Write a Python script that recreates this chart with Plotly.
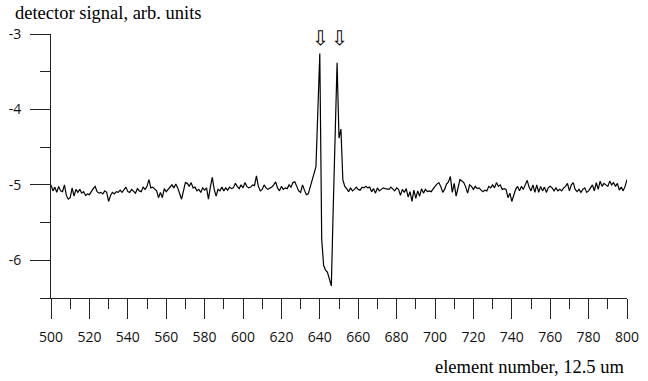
import plotly.graph_objects as go

element = list(range(500, 801))

signal = [
    -5.00, -5.08, -5.03, -5.10, -5.02, -5.08, -5.09, -5.00, -5.14, -5.19,
    -5.17, -5.04, -5.15, -5.06, -5.10, -5.06, -5.11, -5.09, -5.14, -5.12,
    -5.13, -5.08, -5.05, -5.02, -5.09, -5.11, -5.10, -5.12, -5.08, -5.10,
    -5.22, -5.14, -5.10, -5.12, -5.09, -5.10, -5.07, -5.10, -5.06, -5.03,
    -5.09, -5.10, -5.06, -5.08, -5.11, -5.05, -5.08, -5.09, -5.03, -5.06,
    -5.02, -4.93, -5.04, -5.03, -5.06, -5.08, -5.17, -5.10, -5.17, -5.05,
    -5.09, -5.06, -5.02, -5.00, -5.04, -4.99, -5.04, -5.12, -5.19, -5.08,
    -4.97, -4.98, -5.02, -4.97, -5.04, -5.03, -5.08, -5.06, -5.10, -5.04,
    -5.07, -5.04, -5.19, -5.03, -4.90, -5.06, -5.15, -5.06, -5.08, -5.03,
    -5.08, -5.04, -5.07, -5.03, -5.05, -5.04, -4.98, -5.02, -5.05, -5.00,
    -5.04, -4.97, -5.02, -5.04, -5.03, -5.00, -5.01, -4.88, -5.02, -5.08,
    -5.06, -5.00, -5.04, -5.06, -5.05, -5.03, -5.00, -4.96, -5.04, -5.08,
    -5.02, -5.06, -5.04, -5.05, -5.00, -5.03, -4.97, -4.96, -5.02, -5.08,
    -5.10, -5.00, -5.07, -5.13, -5.12, -5.02, -4.96, -4.85, -4.76, -4.00,
    -3.26, -5.72, -6.07, -6.13, -6.16, -6.25, -6.34, -5.30, -4.30, -3.38,
    -4.38, -4.26, -4.93, -5.02, -5.05, -5.09, -5.04, -5.08, -5.06, -5.03,
    -5.06, -5.07, -5.03, -5.04, -5.02, -5.04, -5.03, -5.09, -5.05, -5.11,
    -5.04, -5.08, -5.06, -5.04, -5.05, -5.05, -5.06, -5.03, -5.05, -5.08,
    -5.04, -5.06, -5.14, -5.06, -5.10, -5.05, -5.16, -5.09, -5.22, -5.07,
    -5.18, -5.08, -5.15, -5.05, -5.11, -5.06, -5.09, -5.08, -5.09, -5.05,
    -5.02, -4.99, -4.97, -5.02, -5.10, -5.06, -4.99, -4.96, -4.89, -5.10,
    -4.98, -5.15, -5.02, -4.93, -4.95, -4.97, -5.03, -5.11, -5.00, -5.02,
    -5.06, -5.02, -5.05, -5.04, -5.07, -5.09, -5.07, -5.08, -5.02, -5.04,
    -5.00, -5.04, -4.97, -5.02, -5.00, -5.06, -5.05, -5.06, -5.17, -5.11,
    -5.22, -5.13, -5.06, -5.02, -5.08, -5.02, -5.06, -5.00, -4.94, -5.03,
    -5.08, -5.00, -5.10, -5.00, -5.10, -5.02, -5.08, -5.03, -5.10, -5.04,
    -5.02, -5.04, -5.08, -5.04, -5.08, -5.06, -5.08, -5.04, -5.02, -4.98,
    -5.08, -5.00, -4.97, -5.06, -5.09, -5.06, -5.10, -5.06, -5.04, -5.10,
    -5.08, -5.04, -5.00, -5.08, -4.97, -5.06, -4.95, -5.02, -4.98, -5.00,
    -5.02, -4.95, -5.00, -4.97, -5.02, -4.98, -5.07, -5.03, -5.08, -5.02,
    -4.93,
]

x_tick_vals = [500, 520, 540, 560, 580, 600, 620, 640, 660, 680, 700, 720, 740, 760, 780, 800]
x_tick_text = ["500", "520", "540", "560", "580", "600", "620", "640", "660", "680", "700",
               "720", "740", "760", "780", "800"]
y_tick_vals = [-3, -4, -5, -6]
y_tick_text = ["-3", "-4", "-5", "-6"]

arrow_positions = [640.5, 650.2]

fig = go.Figure()
fig.add_trace(go.Scatter(
    x=element, y=signal, mode="lines",
    line=dict(color="black", width=1.2),
    hoverinfo="skip", showlegend=False,
))

axis_common = dict(
    showgrid=False, zeroline=False, automargin=False,
    showline=True, linecolor="#222222", linewidth=1,
    ticks="outside", ticklen=20, tickwidth=1, tickcolor="#222222",
    tickfont=dict(family="Open Sans", size=14, color="#111111"),
    ticklabelstandoff=6,
)

fig.update_layout(
    width=648, height=381,
    margin=dict(l=51, r=21, t=34, b=83),
    paper_bgcolor="white", plot_bgcolor="white",
    xaxis=dict(
        range=[500, 800], tickmode="array", tickvals=x_tick_vals, ticktext=x_tick_text,
        minor=dict(dtick=10, tick0=500, ticks="outside", ticklen=10, tickcolor="#222222", showgrid=False),
        **axis_common,
    ),
    yaxis=dict(
        range=[-6.5, -3], tickmode="array", tickvals=y_tick_vals, ticktext=y_tick_text,
        minor=dict(dtick=0.5, tick0=-3, ticks="outside", ticklen=10, tickcolor="#222222", showgrid=False),
        **axis_common,
    ),
    annotations=[
        dict(text="detector signal, arb. units", xref="paper", yref="paper",
             x=-0.066, y=1.0795, xanchor="left", yanchor="middle", showarrow=False,
             font=dict(family="Liberation Serif", size=18.5, color="black")),
        dict(text="element number, 12.5 um", xref="paper", yref="paper",
             x=0.998, y=-0.261, xanchor="right", yanchor="middle", showarrow=False,
             font=dict(family="Liberation Serif", size=18.5, color="black")),
    ] + [
        dict(text="\u21e9", xref="x", yref="paper", x=ax, y=0.985,
             xanchor="center", yanchor="middle", showarrow=False,
             font=dict(family="DejaVu Sans", size=20, color="black"))
        for ax in arrow_positions
    ],
)

# remove the default 8px page margin so the figure sits at the window's top-left corner
fig.write_html("out.html", config={"displayModeBar": False},
               post_script="document.body.style.margin='0px';")
